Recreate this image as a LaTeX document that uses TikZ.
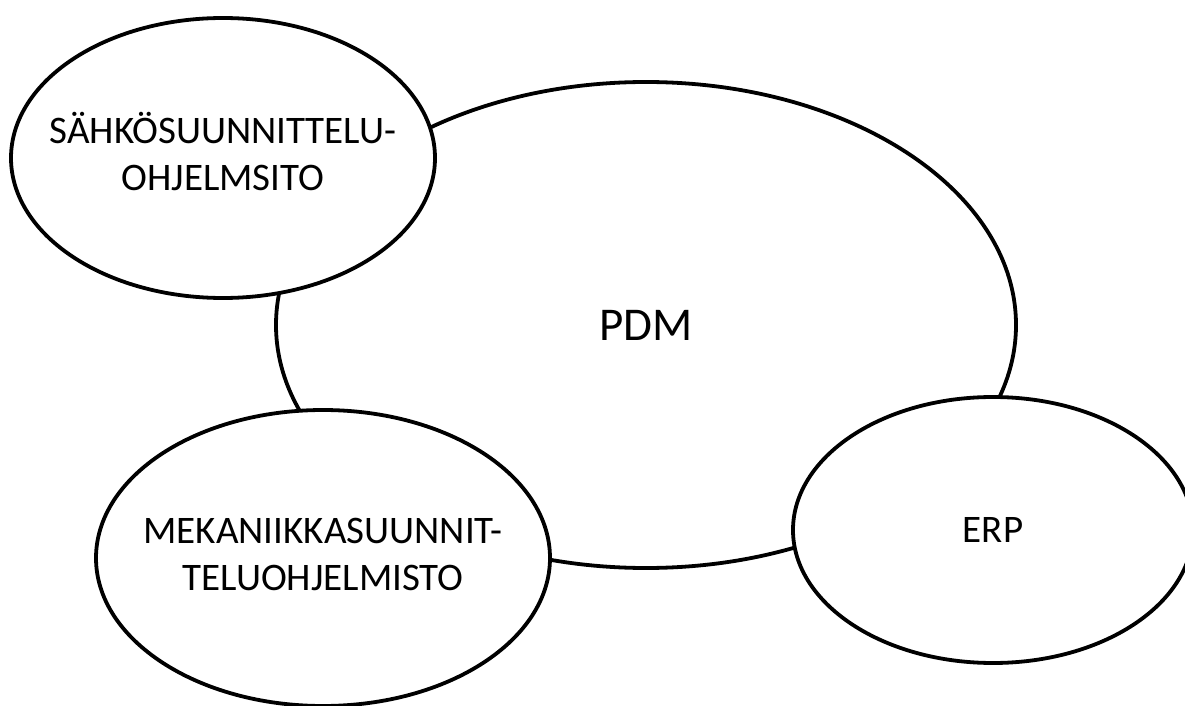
\documentclass[tikz,border=0pt]{standalone}
\usepackage{fontspec}
\setmainfont{Carlito}
\usetikzlibrary{shapes.geometric}

% two centred lines that do not widen the ellipse
\newcommand{\twolines}[2]{\makebox[0pt]{\begin{tabular}{@{}c@{}}#1\\#2\end{tabular}}}

\begin{document}
\begin{tikzpicture}[
    x=0.5pt, y=-0.5pt,
    line width=1.9pt,
    system/.style={
        ellipse, draw, fill=white,
        inner sep=0pt, align=center,
        font=\fontsize{19.5}{23.5}\selectfont
    }
]
    \useasboundingbox (0,0) rectangle (1185,706);

    % PDM in the middle, the other systems drawn over it
    \node [system, minimum width=370pt, minimum height=243pt,
           font=\fontsize{23.5}{28}\selectfont] (pdm) at (646,325) {PDM};

    \node [system, minimum width=212pt, minimum height=140pt] (sahko) at (223,158)
        {\twolines{SÄHKÖSUUNNITTELU-}{OHJELMSITO}};
    \node [system, minimum width=227pt, minimum height=148pt] (meka) at (323,558)
        {\twolines{MEKANIIKKASUUNNIT-}{TELUOHJELMISTO}};
    \node [system, minimum width=200pt, minimum height=133pt] (erp) at (993,530)
        {ERP};

\end{tikzpicture}
\end{document}
